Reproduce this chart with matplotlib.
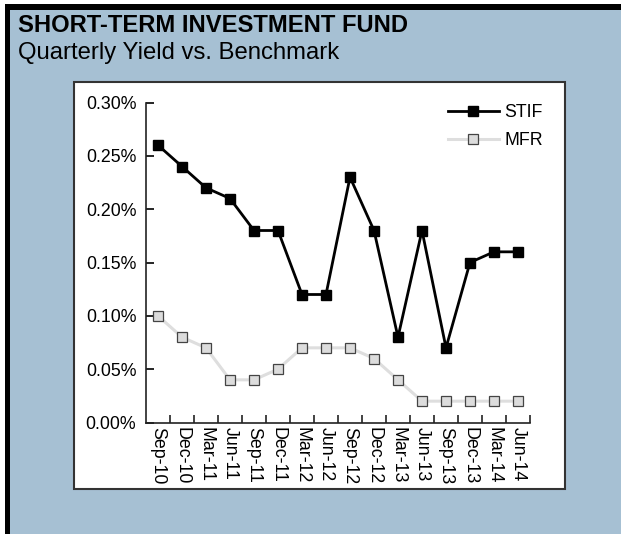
import matplotlib
matplotlib.use("Agg")
import matplotlib.pyplot as plt
from matplotlib.patches import Rectangle
from matplotlib.ticker import FixedLocator, FuncFormatter

plt.rcParams['font.family'] = ['Liberation Sans', 'DejaVu Sans']

quarters = ["Sep-10", "Dec-10", "Mar-11", "Jun-11", "Sep-11", "Dec-11", "Mar-12", "Jun-12",
            "Sep-12", "Dec-12", "Mar-13", "Jun-13", "Sep-13", "Dec-13", "Mar-14", "Jun-14"]
stif = [0.26, 0.24, 0.22, 0.21, 0.18, 0.18, 0.12, 0.12, 0.23, 0.18, 0.08, 0.18, 0.07, 0.15, 0.16, 0.16]
mfr = [0.10, 0.08, 0.07, 0.04, 0.04, 0.05, 0.07, 0.07, 0.07, 0.06, 0.04, 0.02, 0.02, 0.02, 0.02, 0.02]
yticks = [0.00, 0.05, 0.10, 0.15, 0.20, 0.25, 0.30]

W, H = 621, 534
fig = plt.figure(figsize=(W / 100, H / 100), dpi=100)
fig.patch.set_facecolor('white')

def px(x0, y0, x1, y1):
    # convert pixel box (top-left origin) to figure fraction rect
    return (x0 / W, 1 - y1 / H, (x1 - x0) / W, (y1 - y0) / H)

bg = '#a6c0d3'
r = px(5, 4, W, H)
fig.add_artist(Rectangle(r[:2], r[2], r[3], transform=fig.transFigure, facecolor=bg, edgecolor='none', zorder=0))
r = px(5, 4, W, 10)
fig.add_artist(Rectangle(r[:2], r[2], r[3], transform=fig.transFigure, facecolor='black', edgecolor='none', zorder=1))
r = px(5, 4, 10, H)
fig.add_artist(Rectangle(r[:2], r[2], r[3], transform=fig.transFigure, facecolor='black', edgecolor='none', zorder=1))
r = px(74, 82, 565, 489)
fig.add_artist(Rectangle(r[:2], r[2], r[3], transform=fig.transFigure, facecolor='white', edgecolor='#333333', linewidth=1.5, zorder=1))

fig.text(18 / W, 1 - 26 / H, "SHORT-TERM INVESTMENT FUND", fontsize=17.1, fontweight='bold',
         ha='left', va='center', color='black')
fig.text(18 / W, 1 - 53 / H, "Quarterly Yield vs. Benchmark", fontsize=17.2,
         ha='left', va='center', color='black')

ax = fig.add_axes(px(146, 102.5, 530, 422.5))
ax.set_facecolor('none')
ax.set_zorder(2)
x = list(range(len(quarters)))
ax.plot(x, stif, color='black', linewidth=2.0, marker='s', markersize=7,
        markerfacecolor='black', markeredgecolor='black', label='STIF', zorder=3)
ax.plot(x, mfr, color='#dedede', linewidth=2.2, marker='s', markersize=6.8,
        markerfacecolor='#dcdcdc', markeredgecolor='#444444', markeredgewidth=0.9, label='MFR', zorder=2)

ax.set_xlim(-0.5, len(quarters) - 0.5)
ax.set_ylim(0, 0.30)
ax.spines['top'].set_visible(False)
ax.spines['right'].set_visible(False)
for s in ('left', 'bottom'):
    ax.spines[s].set_linewidth(1.2)
    ax.spines[s].set_color('#222222')

ax.set_yticks(yticks)
ax.yaxis.set_major_formatter(FuncFormatter(lambda v, p: f"{v:.2f}%"))
ax.tick_params(axis='y', direction='in', length=6, width=1.2, pad=7, labelsize=12.8, colors='black')

ax.set_xticks(x)
ax.set_xticklabels(quarters, rotation=270, ha='center', va='top', fontsize=12.8)
ax.tick_params(axis='x', which='major', length=0, pad=3)
ax.xaxis.set_minor_locator(FixedLocator([i + 0.5 for i in x]))
ax.tick_params(axis='x', which='minor', direction='in', length=6, width=1.2, color='#222222')

leg = ax.legend(loc='upper left', bbox_to_anchor=(448 / W, 1 - 104 / H), bbox_transform=fig.transFigure,
                frameon=False, fontsize=12.8, handlelength=2.85, handletextpad=0.3,
                labelspacing=0.62, borderpad=0, borderaxespad=0)

fig.savefig('out.png', dpi=100, facecolor=fig.get_facecolor())
